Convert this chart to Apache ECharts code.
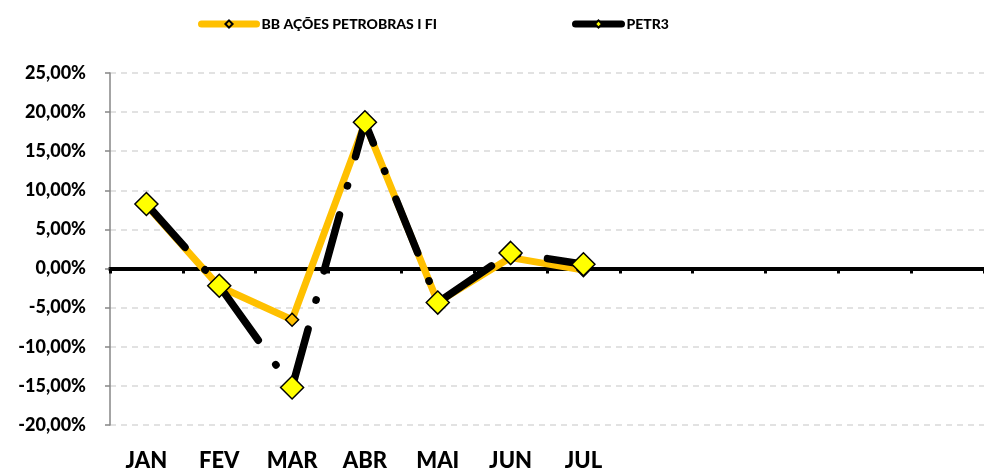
<!DOCTYPE html>
<html>
<head>
<meta charset="utf-8">
<script src="https://cdn.jsdelivr.net/npm/echarts@6/dist/echarts.min.js"></script>
<style>
  html, body { margin: 0; padding: 0; background: #fff; }
  #chart { width: 984px; height: 472px; }
</style>
</head>
<body>
<div id="chart"></div>
<script>
// meses do eixo (só os com dados recebem rótulo)
const months = ['JAN', 'FEV', 'MAR', 'ABR', 'MAI', 'JUN', 'JUL', 'AGO', 'SET', 'OUT', 'NOV', 'DEZ'];
// rentabilidade mensal em %
const bbAcoes = [8.1, -2.3, -6.55, 18.6, -4.3, 1.4, -0.2];
const petr3 = [8.25, -2.2, -15.2, 18.7, -4.35, 2.0, 0.55];
const names = ['BB AÇÕES PETROBRAS I FI', 'PETR3'];

const font = 'Lato, "Open Sans", sans-serif';
const fmt = v => v.toFixed(2).replace('.', ',') + '%';

const legendText = { color: '#000', fontFamily: font, fontWeight: 900, fontSize: 14 };

const chart = echarts.init(document.getElementById('chart'));
chart.setOption({
  animation: false,
  backgroundColor: '#fff',
  grid: { left: 110, right: 0, top: 73, bottom: 45 },
  legend: [
    {
      left: 193, top: 12,
      data: [names[0]],
      itemWidth: 55, itemHeight: 9,
      lineStyle: { type: 'solid', width: 7, cap: 'round' },
      textStyle: legendText
    },
    {
      left: 567, top: 12,
      data: [names[1]],
      itemWidth: 46, itemHeight: 9,
      lineStyle: { type: 'solid', width: 7, cap: 'round' },
      textStyle: legendText
    }
  ],
  xAxis: [
    {
      type: 'category',
      data: months,
      boundaryGap: true,
      axisLine: { onZero: true, lineStyle: { color: '#000', width: 4 } },
      axisTick: { show: true, length: 5, lineStyle: { color: '#000', width: 3 } },
      axisLabel: { show: false },
      splitLine: { show: false }
    },
    {
      type: 'category',
      data: months,
      position: 'bottom',
      axisLine: { show: false, onZero: false },
      axisTick: { show: false },
      axisLabel: {
        margin: 25,
        color: '#000',
        fontFamily: font,
        fontWeight: 900,
        fontSize: 22,
        formatter: (v, i) => (i < bbAcoes.length ? v : '')
      },
      splitLine: { show: false }
    }
  ],
  yAxis: {
    type: 'value',
    min: -20, max: 25, interval: 5,
    axisLine: { show: true, lineStyle: { color: '#868686', width: 1.5 } },
    axisTick: { show: true, length: 5, lineStyle: { color: '#868686', width: 1.5 } },
    axisLabel: {
      margin: 24,
      color: '#000',
      fontFamily: font,
      fontWeight: 900,
      fontSize: 18,
      formatter: fmt
    },
    splitLine: { show: true, lineStyle: { color: '#d9d9d9', width: 1.5, type: [6, 5] } }
  },
  series: [
    {
      name: names[0],
      type: 'line',
      xAxisIndex: 0,
      data: bbAcoes,
      symbol: 'diamond',
      symbolSize: 13,
      lineStyle: { color: '#ffc000', width: 7, cap: 'round', join: 'round' },
      itemStyle: { color: '#ffc000', borderColor: '#000', borderWidth: 1.5 },
      z: 3
    },
    {
      name: names[1],
      type: 'line',
      xAxisIndex: 0,
      data: petr3,
      symbol: 'diamond',
      symbolSize: 23,
      lineStyle: { color: '#000', width: 7.5, type: [58, 30, 0.5, 30], cap: 'round', join: 'round' },
      itemStyle: { color: '#ffff00', borderColor: '#000', borderWidth: 1.5 },
      z: 4
    }
  ]
});
</script>
</body>
</html>
